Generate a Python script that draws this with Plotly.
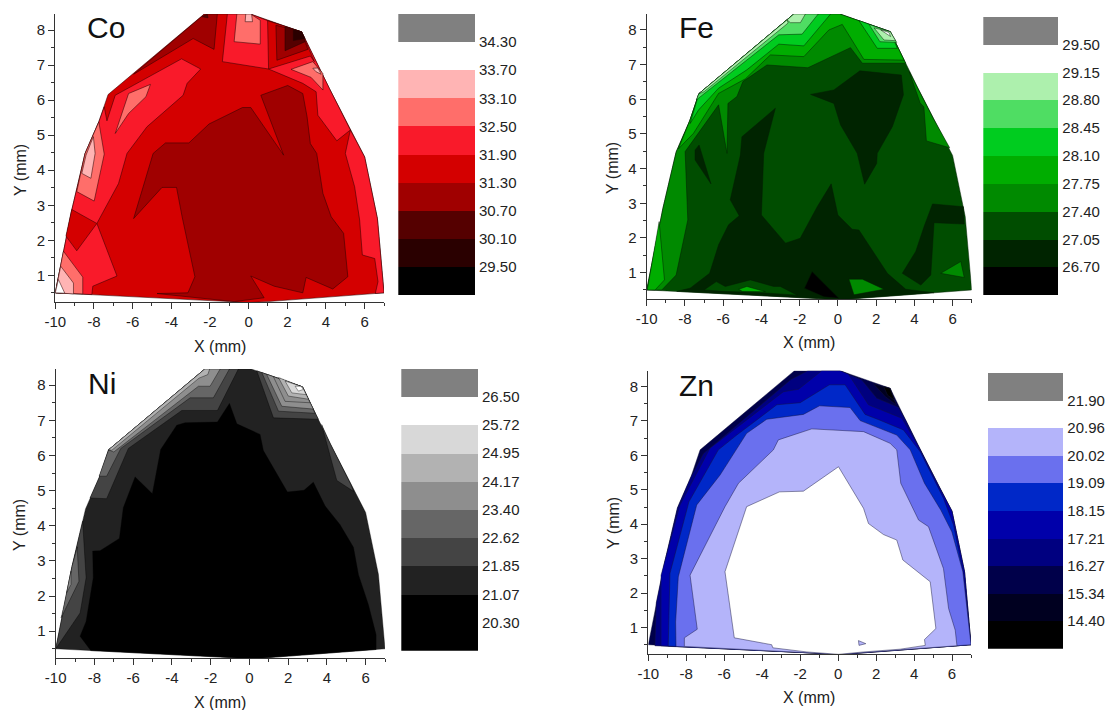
import plotly.graph_objects as go

W, H = 1107, 710

X_TICKS = [-10, -8, -6, -4, -2, 0, 2, 4, 6]
X_TICK_TEXT = ["-10", "-8", "-6", "-4", "-2", "0", "2", "4", "6"]
X_MINOR = [-9, -7, -5, -3, -1, 1, 3, 5, 7]
Y_TICKS = [1, 2, 3, 4, 5, 6, 7, 8]
Y_MINOR = [0.5, 1.5, 2.5, 3.5, 4.5, 5.5, 6.5, 7.5]
X_RANGE = [-10, 7]
Y_RANGE = [0.23, 8.46]

# Sample outline (mm)
DOME = [(-10, .5), (-9.58, 1.72), (-9.15, 2.86), (-8.46, 4.48), (-7.75, 5.38), (-7.27, 6.16),
        (-2.3, 8.46), (.1, 8.46), (2.74, 7.95), (4.18, 6.33), (5.26, 5.15), (6, 4.38),
        (6.66, 2.62), (7, .5), (1, .25), (0, .22), (-1, .25)]

# Contour levels and band colours, low to high
CO_LEVELS = [29.50, 30.10, 30.70, 31.30, 31.90, 32.50, 33.10, 33.70, 34.30]
FE_LEVELS = [26.70, 27.05, 27.40, 27.75, 28.10, 28.45, 28.80, 29.15, 29.50]
NI_LEVELS = [20.30, 21.07, 21.85, 22.62, 23.40, 24.17, 24.95, 25.72, 26.50]
ZN_LEVELS = [14.40, 15.34, 16.27, 17.21, 18.15, 19.09, 20.02, 20.96, 21.90]
CO_COLORS = ["#000000", "#2a0000", "#550000", "#a00000", "#d40000", "#f91a2a", "#ff6e6a", "#ffb4b4", "#ffffff", "#808080"]
FE_COLORS = ["#000000", "#002400", "#004d00", "#008a00", "#00ad00", "#00cc1f", "#4fdd63", "#adf0ad", "#ffffff", "#808080"]
NI_COLORS = ["#000000", "#000000", "#222222", "#444444", "#666666", "#8e8e8e", "#b2b2b2", "#d8d8d8", "#ffffff", "#808080"]
ZN_COLORS = ["#000000", "#000020", "#00004a", "#000080", "#0000aa", "#0028c8", "#6a70ee", "#b4b4fa", "#ffffff", "#808080"]

# Co contour regions (mm)
CO_BRIGHT_L = [(-10, .5), (-9.58, 1.72), (-9.15, 2.86), (-8.46, 4.48), (-7.75, 5.38), (-7.47, 5.81), (-7.33, 5.41),
               (-6.9, 6.14), (-3.47, 7.18), (-2.48, 6.89), (-3.18, 6.48), (-3.39, 6.14), (-5.26, 5.24), (-6.29, 4.48),
               (-6.73, 3.62), (-7.85, 2.48), (-6.81, .98), (-8.06, .69), (-8.11, .45)]
CO_PATCH_L = [(-9.15, 2.88), (-7.85, 2.48), (-8.89, 1.70), (-9.45, 2.12)]
CO_PINK_BL = [(-9.58, 1.69), (-8.58, .95), (-8.58, .47), (-10, .5)]
CO_LIGHT_BL = [(-9.72, 1.26), (-9.06, .78), (-9.06, .47), (-10, .5)]
CO_WHITE_BL = [(-9.84, .88), (-9.51, .49), (-10, .5)]
CO_PINK_L = [(-7.75, 5.38), (-7.47, 4.46), (-7.99, 3.12), (-8.89, 3.39), (-8.46, 4.48)]
CO_LIGHT_L = [(-8.03, 4.96), (-7.94, 4.48), (-8.16, 3.77), (-8.63, 3.91), (-8.41, 4.43)]
CO_PINK_UL = [(-5.08, 6.45), (-5.31, 6.1), (-6.21, 5.62), (-6.9, 5.05), (-6.21, 6.19)]
CO_CORE = [(-5.95, 2.62), (-4.48, 3.51), (-3.73, 3.51), (-3.44, 2.67), (-2.78, .96), (-3.14, .5), (-4.74, .48),
           (-.75, .25), (.8, .36), (.11, .98), (1.32, .69), (2.8, .5), (2.97, .94), (4.35, .61), (5.13, .96),
           (4.91, 2.2), (4.27, 2.67), (3.84, 3.34), (3.52, 4.48), (3.19, 4.76), (3.02, 5.53), (2.8, 6.19),
           (2.02, 6.42), (.63, 6.14), (1.81, 4.43), (.11, 5.79), (-.32, 5.79), (-2.05, 5.32), (-3.09, 4.78),
           (-4.3, 4.78), (-4.94, 4.48)]
CO_BRIGHT_R = [(5.26, 5.15), (6, 4.38), (6.66, 2.62), (7, .5), (6.55, .48), (6.69, .82), (6.52, 1.48), (5.88, 1.58),
               (5.74, 2.58), (5.48, 3.53), (5, 4.48)]
CO_BRIGHT_T = [(-1.1, 8.46), (-1.36, 7.1), (1.03, 6.89), (2.8, 6.48), (3.49, 6.24), (3.58, 5.57), (4.56, 4.84),
               (5.26, 5.15), (4.18, 6.33), (2.74, 7.95), (.98, 8.27), (.1, 8.46)]
CO_MAIN_TR = [(.98, 8.27), (1.03, 6.89), (3.19, 7.26), (3.4, 7.1), (2.74, 7.95)]
CO_DARK_TR = [(1.41, 8.14), (1.46, 7.14), (3.06, 7.45), (2.74, 7.95)]
CO_DEEP_TR = [(1.88, 8.1), (1.88, 7.41), (2.92, 7.67), (2.74, 7.95)]
CO_DEEPER_TR = [(2.31, 8.02), (2.31, 7.7), (2.92, 7.76), (2.74, 7.95)]
CO_PINK_TOP = [(-.61, 8.46), (-.75, 7.67), (.6, 7.6), (.6, 8.28), (.1, 8.46)]
CO_LIGHT_TOP = [(-.15, 8.46), (-.18, 8.24), (.2, 8.24), (.15, 8.46)]
CO_PINK_R = [(2.19, 6.88), (3.32, 7.1), (3.84, 6.76), (3.84, 6.29), (3.23, 6.65)]
CO_LIGHT_R = [(3.32, 6.91), (3.58, 6.92), (3.75, 6.74), (3.49, 6.81)]
CO_DARK_TL = [(-5.95, 6.74), (-2.87, 7.76), (-1.79, 7.45), (-1.62, 8.46), (-2.28, 8.46)]
CO_DEEP_TL = [(-2.4, 8.38), (-2.14, 8.46), (-2.1, 8.35)]
CO_BASE_BAND = 4
CO_LAYERS = [(5, CO_BRIGHT_L), (4, CO_PATCH_L), (6, CO_PINK_BL), (7, CO_LIGHT_BL), (8, CO_WHITE_BL),
             (6, CO_PINK_L), (7, CO_LIGHT_L), (6, CO_PINK_UL), (3, CO_CORE), (5, CO_BRIGHT_R), (5, CO_BRIGHT_T),
             (4, CO_MAIN_TR), (3, CO_DARK_TR), (2, CO_DEEP_TR), (1, CO_DEEPER_TR), (6, CO_PINK_TOP),
             (7, CO_LIGHT_TOP), (6, CO_PINK_R), (7, CO_LIGHT_R), (3, CO_DARK_TL), (2, CO_DEEP_TL)]

# Fe contour regions (mm)
FE_OUTER = [(-10, .5), (-9.58, 1.72), (-9.15, 2.86), (-8.46, 4.48), (-7.75, 5.38), (-7.27, 6.16), (-2.3, 8.46),
            (.1, 8.46), (2.74, 7.95), (3.55, 7.04), (1.28, 7.04), (.66, 7.49), (-1.57, 6.91), (-3.71, 6.99),
            (-4.97, 6.51), (-5.28, 6.08), (-5.75, 5.88), (-5.8, 4.44), (-6.24, 5.84), (-7.99, 4.49), (-7.85, 2.52),
            (-8.46, .93), (-9.21, .5)]
FE_OUTER_R = [(3.73, 6.8), (4.18, 6.33), (5.0, 5.44), (5.85, 4.6), (4.63, 4.8), (4.5, 5.78), (4.3, 5.9)]
FE_BAND4_BL = [(-9.97, .5), (-9.58, 1.72), (-9.35, 2.47), (-9.07, .79), (-9.56, .5)]
FE_BAND4 = [(-8.34, 4.57), (-7.75, 5.38), (-7.27, 6.16), (-2.3, 8.46), (.1, 8.46), (2.74, 7.95), (3.46, 7.13),
            (1.36, 7.15), (.23, 8.16), (-.47, 8.0), (-1.78, 7.23), (-3.53, 7.28), (-4.84, 6.59), (-6.24, 6.17),
            (-7.55, 5.02)]
FE_BAND5_L = [(-7.73, 5.3), (-7.27, 6.16), (-2.3, 8.46), (-.38, 8.46), (-1.78, 7.54), (-3.09, 7.59), (-4.76, 6.85),
              (-6.24, 6.32), (-7.29, 5.69)]
FE_BAND5_R = [(1.1, 8.27), (2.06, 7.47), (3.11, 7.47), (2.74, 7.95)]
FE_BAND6_L = [(-7.41, 5.98), (-7.27, 6.16), (-2.3, 8.46), (-1.03, 8.46), (-1.87, 7.88), (-3.09, 7.86)]
FE_BAND6_R = [(1.63, 8.16), (2.2, 7.66), (3.08, 7.64), (2.74, 7.95)]
FE_BAND7_L = [(-2.66, 8.29), (-2.3, 8.46), (-1.7, 8.46), (-1.96, 8.21), (-2.48, 8.21)]
FE_BAND7_E = [(-7.27, 6.16), (-2.66, 8.29), (-2.6, 8.2), (-7.0, 6.22)]
FE_BAND7_R = [(1.89, 8.06), (2.41, 7.71), (3.02, 7.69), (2.74, 7.95)]
FE_WHITE_R = [(2.24, 8.0), (2.76, 7.81), (2.67, 7.93)]
FE_DARK_R = [(4.95, 2.98), (6.57, 2.9), (6.61, 2.4), (5.03, 2.44), (4.86, .93), (4.34, .64), (3.37, .98), (4.07, 1.61), (4.51, 2.33)]
FE_DARK_T = [(-1.43, 6.14), (-.21, 6.27), (1.15, 6.82), (3.32, 6.7), (3.43, 6.13), (2.85, 5.21), (2.06, 4.44), (2.03, 4.15),
             (1.4, 3.55), (1.01, 4.44), (.14, 5.26), (-.21, 5.88)]
FE_DARK_L = [(-7.26, 4.68), (-6.64, 3.56), (-7.47, 4.25), (-7.47, 4.54)]
FE_DARK_M = [(-3.27, 5.74), (-3.88, 4.44), (-4.0, 2.66), (-2.74, 1.85), (-1.97, 1.99), (-1.08, 2.9), (-.35, 3.56), (0, 2.66),
             (.75, 2.25), (1.1, 2.23), (2.59, .98), (3.55, .52), (5.03, .42), (1, .25), (0, .22), (-1, .25), (-8.43, .46),
             (-7.73, .55), (-6.71, .98), (-6.24, 1.8), (-5.72, 2.38), (-5.16, 2.64), (-5.63, 3.1), (-5.1, 4.39), (-5.02, 4.92)]
FE_ISLE_B = [(-7.0, .5), (-6.36, .74), (-5.89, .6), (-4.58, .79), (-3.36, .6), (-3.01, .6), (-2.13, .35), (-4, .42), (-6, .46)]
FE_ISLE_G = [(-5.19, .52), (-4.76, .6), (-3.79, .45), (-5, .46)]
FE_ISLE_C = [(.58, .81), (1.28, .81), (2.41, .52), (.84, .36)]
FE_ISLE_R = [(5.38, .98), (6.43, 1.32), (6.61, .86)]
FE_BLACK = [(-1.35, 1.03), (.05, .26), (-.73, .3), (-1.75, .55)]
FE_BASE_BAND = 2
FE_LAYERS = [(3, FE_OUTER), (3, FE_OUTER_R), (4, FE_BAND4_BL), (4, FE_BAND4), (5, FE_BAND5_L), (5, FE_BAND5_R),
             (6, FE_BAND6_L), (6, FE_BAND6_R), (7, FE_BAND7_L), (7, FE_BAND7_E), (7, FE_BAND7_R), (8, FE_WHITE_R),
             (1, FE_DARK_R), (1, FE_DARK_T), (1, FE_DARK_L), (1, FE_DARK_M), (2, FE_ISLE_B), (4, FE_ISLE_G),
             (3, FE_ISLE_C), (3, FE_ISLE_R), (0, FE_BLACK)]

# Ni contour regions (mm)
NI_CORE = [(-8.19, .45), (-8.74, .86), (-8.43, 1.28), (-8.06, 2.52), (-8.09, 3.28), (-7.71, 3.29), (-6.71, 3.64), (-6.51, 4.51),
           (-5.9, 5.39), (-5.01, 4.91), (-4.58, 6.17), (-3.75, 6.86), (-3.32, 6.93), (-1.65, 6.95), (-1.03, 7.48), (-.65, 6.9),
           (.55, 6.6), (.72, 6.14), (1.96, 4.96), (2.82, 5.01), (3.3, 5.24), (3.91, 4.56), (4.68, 4.03), (5.37, 3.39), (5.63, 2.61),
           (6.14, 1.76), (6.54, .9), (6.54, .48), (1, .25), (0, .22), (-1, .25)]
NI_B3_L = [(-10, .5), (-9.58, 1.72), (-9.15, 2.86), (-8.61, 4.13), (-8.43, 2.52), (-8.74, 1.52)]
NI_B4_L = [(-9.72, 1.38), (-9.58, 1.72), (-9.15, 2.86), (-8.88, 3.4), (-8.88, 3.28), (-8.8, 2.42)]
NI_B5_L = [(-9.43, 2.1), (-9.21, 2.33), (-9.21, 2.71), (-9.29, 2.5)]
NI_B3_T = [(-8.23, 4.79), (-7.75, 5.38), (-7.27, 6.16), (-2.3, 8.46), (-.57, 8.46), (-1.65, 7.28), (-3.49, 7.28), (-6.25, 6.2), (-7.37, 4.77)]
NI_B4_T = [(-7.76, 5.41), (-7.27, 6.16), (-2.3, 8.46), (-1.03, 8.46), (-1.86, 7.64), (-3.06, 7.64), (-6.64, 6.2), (-7.37, 5.41)]
NI_B5_T = [(-7.27, 6.16), (-2.3, 8.46), (-1.51, 8.46), (-2.03, 7.97), (-2.63, 7.97), (-7.0, 6.1)]
NI_B6_T = [(-7.27, 6.16), (-2.3, 8.46), (-2.05, 8.46), (-2.15, 8.3), (-2.6, 8.2), (-7.1, 6.15)]
NI_B3_R = [(.38, 8.41), (1.24, 7.07), (3.56, 7.03), (2.74, 7.95)]
NI_B4_R = [(.64, 8.36), (1.5, 7.26), (3.39, 7.2), (2.74, 7.95)]
NI_B5_R = [(.89, 8.31), (1.67, 7.4), (3.3, 7.32), (2.74, 7.95)]
NI_B6_R = [(1.24, 8.24), (1.84, 7.54), (3.13, 7.5), (2.74, 7.95)]
NI_B7_R = [(1.5, 8.22), (2.01, 7.69), (3.05, 7.6), (2.74, 7.95)]
NI_B8_R = [(1.84, 8.12), (2.19, 7.78), (2.93, 7.73), (2.74, 7.95)]
NI_WHITE = [(2.36, 7.97), (2.53, 7.83), (2.79, 7.88), (2.66, 7.97)]
NI_B3_E = [(3.73, 6.88), (4.18, 6.33), (5.26, 5.15), (5.37, 4.98), (4.51, 5.29)]
NI_BASE_BAND = 2
NI_LAYERS = [(0, NI_CORE), (3, NI_B3_L), (4, NI_B4_L), (5, NI_B5_L), (3, NI_B3_T), (4, NI_B4_T), (5, NI_B5_T), (6, NI_B6_T),
             (3, NI_B3_R), (4, NI_B4_R), (5, NI_B5_R), (5, NI_B6_R), (6, NI_B7_R), (7, NI_B8_R), (8, NI_WHITE), (3, NI_B3_E)]

# Zn contour regions (mm)
ZN_L0 = [(-9.65, .47), (-9.58, 1.72), (-9.15, 2.86), (-8.46, 4.48), (-7.75, 5.38), (-7.1, 6.05), (-2.5, 8.2), (-1.6, 8.46),
         (.1, 8.46), (1.25, 8.19), (2.04, 7.66), (3.18, 7.4), (3.6, 6.98), (4.18, 6.33), (5.26, 5.15), (6, 4.38), (6.66, 2.62),
         (7, .5), (1, .25), (0, .22), (-1, .25)]
ZN_L1 = [(-9.33, .47), (-9.33, 2.52), (-8.33, 4.56), (-6.75, 6.21), (-2.88, 7.85), (-2.09, 7.92), (-.86, 8.46), (.1, 8.46),
         (.54, 8.36), (1.6, 7.47), (3.36, 7.08), (4.24, 6.25), (5.26, 5.15), (6, 4.38), (6.66, 2.62), (7, .5), (1, .25), (0, .22), (-1, .25)]
ZN_L2 = [(-8.95, .46), (-8.86, 2.57), (-7.86, 4.65), (-6.31, 6.16), (-5.34, 6.59), (-3.23, 7.47), (-2, 7.53), (-.46, 8.05), (.37, 8.05),
         (1.42, 7.19), (2.21, 7.02), (3.44, 6.74), (4.32, 6.11), (5.55, 4.75), (6.08, 3.98), (6.57, 2.62), (7, .5), (1, .25), (0, .22), (-1, .25)]
ZN_L3 = [(-8.54, .45), (-8.56, 1.16), (-8.42, 2.47), (-7.45, 4.56), (-6.22, 5.43), (-4.82, 6.64), (-3.76, 7.05), (-1.83, 7.19), (-.98, 7.44),
         (.63, 7.39), (1.16, 7.01), (3.09, 6.59), (3.8, 6.16), (4.55, 5.19), (5.41, 4.41), (5.99, 3.78), (6.57, 2.62), (7, .5), (1, .25), (0, .22), (-1, .25)]
ZN_L4 = [(-8.1, .45), (-8.1, .7), (-7.42, .95), (-7.8, 2.52), (-5.96, 4.51), (-5.25, 5.19), (-3.41, 6.16), (-3.15, 6.45), (-1.39, 6.77),
         (1.34, 6.69), (2.74, 6.35), (3.09, 6.16), (3.3, 5.19), (4.24, 4.12), (4.76, 3.93), (5.55, 2.71), (5.82, 1.55), (6.17, .92), (6.26, .47),
         (1, .25), (0, .22), (-1, .25)]
ZN_WHITE = [(-5.47, .7), (-5.66, 1.45), (-5.96, 2.62), (-4.82, 4.51), (-3.09, 4.94), (-1.83, 4.96), (.02, 5.67), (1.34, 4.46), (1.6, 4.02),
            (2.39, 3.7), (3.09, 3.54), (3.41, 2.96), (4.85, 2.33), (5.15, .97), (4.55, .65), (4.59, .48), (3.27, .37), (1.34, .29), (.02, .22),
            (-1.65, .29), (-3.44, .41), (-3.5, .5)]
ZN_ISLE = [(1.07, .62), (1.46, .53), (1.1, .48)]
ZN_CORNER = [(1.86, 8.08), (2.48, 7.71), (3.06, 7.47), (2.74, 7.95)]
ZN_CORNER2 = [(2.4, 8.0), (2.6, 7.75), (2.98, 7.6), (2.74, 7.95)]
ZN_BASE_BAND = 2
ZN_LAYERS = [(3, ZN_L0), (4, ZN_L1), (5, ZN_L2), (6, ZN_L3), (7, ZN_L4), (8, ZN_WHITE), (7, ZN_ISLE), (1, ZN_CORNER), (0, ZN_CORNER2)]

FONT = "Liberation Sans"
INK = "#222222"

PANELS = [
    dict(name="Co", px=(55.3, 384), py=(14, 302.3), levels=CO_LEVELS, colors=CO_COLORS, base=CO_BASE_BAND, layers=CO_LAYERS,
         bar_x=(398.3, 475), bar_y=(14, 295), xt=(220, 346), yt=(20, 170), lab=(106, 28), edge="rgba(40,0,0,0.75)"),
    dict(name="Fe", px=(646.7, 971.7), py=(14, 299.3), levels=FE_LEVELS, colors=FE_COLORS, base=FE_BASE_BAND, layers=FE_LAYERS,
         bar_x=(983.3, 1058.3), bar_y=(16.7, 295), xt=(809, 342), yt=(612, 168), lab=(696, 28), edge="rgba(0,30,0,0.7)"),
    dict(name="Ni", px=(55.7, 385), py=(369, 658.3), levels=NI_LEVELS, colors=NI_COLORS, base=NI_BASE_BAND, layers=NI_LAYERS,
         bar_x=(401.3, 478), bar_y=(368.7, 650.7), xt=(220, 702), yt=(19, 525), lab=(102, 384), edge="rgba(0,0,0,0.55)"),
    dict(name="Zn", px=(648.3, 971), py=(370.7, 654), levels=ZN_LEVELS, colors=ZN_COLORS, base=ZN_BASE_BAND, layers=ZN_LAYERS,
         bar_x=(988, 1063.3), bar_y=(372.7, 648.7), xt=(809, 697), yt=(613, 523), lab=(696, 385), edge="rgba(20,20,60,0.65)"),
]


def closed(points):
    xs = [p[0] for p in points] + [points[0][0]]
    ys = [p[1] for p in points] + [points[0][1]]
    return xs, ys


def ref(letter, n):
    return letter if n == 1 else f"{letter}{n}"


fig = go.Figure()
layout = {}
notes = []


def note(text, pos, size, angle=0):
    notes.append(dict(text=text, x=pos[0] / W, y=1 - pos[1] / H, xref="paper", yref="paper", showarrow=False,
                      xanchor="center", yanchor="middle", textangle=angle,
                      font=dict(family=FONT, size=size, color=INK if size < 25 else "#111111")))


for i, p in enumerate(PANELS):
    a = i + 1
    b = i + 5
    on_panel = dict(xaxis=ref("x", a), yaxis=ref("y", a))
    axis_common = dict(showgrid=False, zeroline=False, showline=True, linecolor="#333333", linewidth=1.3, ticks="outside",
                       ticklen=6, tickwidth=1.2, tickcolor="#333333", automargin=False,
                       tickfont=dict(family=FONT, size=15, color=INK))
    layout[f"xaxis{a}"] = dict(domain=[p["px"][0] / W, p["px"][1] / W], range=X_RANGE, anchor=ref("y", a), tickmode="array",
                               tickvals=X_TICKS, ticktext=X_TICK_TEXT,
                               minor=dict(tickmode="array", tickvals=X_MINOR, ticks="outside", ticklen=3, tickwidth=1, tickcolor="#333333"),
                               **axis_common)
    layout[f"yaxis{a}"] = dict(domain=[1 - p["py"][1] / H, 1 - p["py"][0] / H], range=Y_RANGE, anchor=ref("x", a), tickmode="array",
                               tickvals=Y_TICKS,
                               minor=dict(tickmode="array", tickvals=Y_MINOR, ticks="outside", ticklen=3, tickwidth=1, tickcolor="#333333"),
                               **axis_common)
    dx, dy = closed(DOME)
    fig.add_trace(go.Scatter(x=dx, y=dy, mode="lines", fill="toself", fillcolor=p["colors"][p["base"]],
                             line=dict(color=p["edge"], width=0.7), hoverinfo="skip", showlegend=False, **on_panel))
    for band, poly in p["layers"]:
        lx, ly = closed(poly)
        fig.add_trace(go.Scatter(x=lx, y=ly, mode="lines", fill="toself", fillcolor=p["colors"][band],
                                 line=dict(color=p["edge"], width=0.7), hoverinfo="skip", showlegend=False, **on_panel))

    # Colour scale bar: bands between levels on a value axis
    lv = p["levels"]
    step = lv[1] - lv[0]
    edges = [lv[0] - step] + lv + [lv[-1] + step]
    fig.add_trace(go.Bar(x=[0] * (len(edges) - 1), base=edges[:-1], y=[q - r for r, q in zip(edges[:-1], edges[1:])],
                         width=1, marker=dict(color=p["colors"], line=dict(width=0)), hoverinfo="skip", showlegend=False,
                         xaxis=ref("x", b), yaxis=ref("y", b)))
    layout[f"xaxis{b}"] = dict(domain=[p["bar_x"][0] / W, p["bar_x"][1] / W], range=[-.5, .5], visible=False, anchor=ref("y", b), automargin=False)
    layout[f"yaxis{b}"] = dict(domain=[1 - p["bar_y"][1] / H, 1 - p["bar_y"][0] / H], range=[edges[0], edges[-1]], anchor=ref("x", b),
                               side="right", showgrid=False, zeroline=False, showline=False, ticks="", tickmode="array", automargin=False,
                               tickvals=lv, ticktext=[f"{v:.2f}" for v in lv], ticklabelstandoff=3,
                               tickfont=dict(family=FONT, size=15, color=INK))
    note("X (mm)", p["xt"], 16)
    note("Y (mm)", p["yt"], 16, angle=-90)
    note(p["name"], p["lab"], 30)

fig.update_layout(width=W, height=H, autosize=False, margin=dict(l=0, r=0, t=0, b=0), paper_bgcolor="white", plot_bgcolor="white",
                  barmode="overlay", bargap=0, showlegend=False, annotations=notes, **layout)
fig.write_html("out.html", config={"displayModeBar": False}, post_script="document.body.style.margin='0';")
